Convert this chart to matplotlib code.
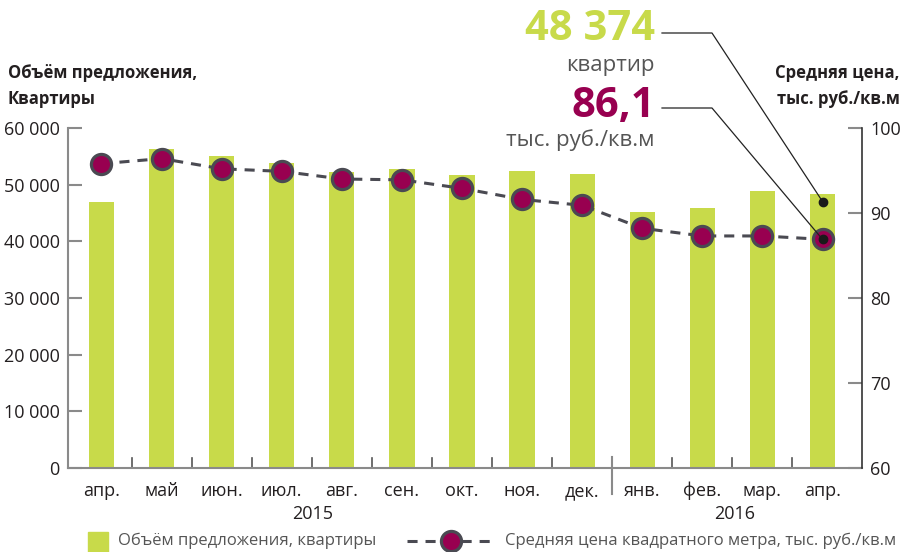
import matplotlib
matplotlib.use("Agg")
import matplotlib.pyplot as plt
from matplotlib.lines import Line2D
from matplotlib.patches import Rectangle
import matplotlib.transforms as mtransforms

plt.rcParams['font.family'] = ['Open Sans', 'DejaVu Sans']

# данные
months = ["апр.", "май", "июн.", "июл.", "авг.", "сен.", "окт.", "ноя.", "дек.",
          "янв.", "фев.", "мар.", "апр."]
years = ["2015", "2016"]
volume = [46900, 56300, 55000, 53800, 52200, 52700, 51700, 52400, 51900,
          45100, 45800, 48800, 48374]
price = [95.8, 96.4, 95.2, 94.9, 94.0, 93.9, 92.9, 91.6, 90.9,
         88.2, 87.3, 87.3, 86.9]
price_label = "86,1"
left_ticks = [0, 10000, 20000, 30000, 40000, 50000, 60000]
right_ticks = [60, 70, 80, 90, 100]

green = "#c8da4a"
maroon = "#980050"
dark = "#4a4a52"
gray = "#8a8a8a"
text_c = "#231f20"

W, H = 903, 552
fig = plt.figure(figsize=(W / 100, H / 100), dpi=100)
ax = fig.add_axes([68 / W, (H - 468) / H, (862 - 68) / W, (468 - 128) / H])
ax2 = ax.twinx()

x = list(range(len(months)))
ax.bar(x, volume, width=0.42, color=green, zorder=2)
ax.set_xlim(-0.557, len(months) - 1 + 0.657)
ax.set_ylim(0, 60000)
ax.set_yticks(left_ticks)
ax.set_yticklabels([f"{v:,}".replace(",", " ") for v in left_ticks])

ax2.plot(x, price, color=dark, lw=2.2, dashes=(3.3, 2.6), zorder=3,
         marker="o", markersize=14.5, markerfacecolor=maroon,
         markeredgecolor=dark, markeredgewidth=2.3)
ax2.set_ylim(60, 100)
ax2.set_yticks(right_ticks)

for a in (ax, ax2):
    a.spines["top"].set_visible(False)
    a.tick_params(axis="y", direction="in", length=10, width=1.5, color=gray,
                  labelsize=13, labelcolor=text_c, pad=6)
ax.spines["left"].set_color(gray)
ax.spines["left"].set_linewidth(1.5)
ax.spines["right"].set_visible(False)
ax2.spines["left"].set_visible(False)
ax2.spines["right"].set_color("#333333")
ax2.spines["right"].set_linewidth(1.2)
ax2.spines["bottom"].set_visible(False)
ax.spines["bottom"].set_color(gray)
ax.spines["bottom"].set_linewidth(1.5)

# подписи месяцев и разделители
ax.set_xticks(x)
ax.set_xticklabels(months)
ax.tick_params(axis="x", length=0, labelsize=13, labelcolor=text_c, pad=10)
for i in range(len(months) - 1):
    if i == 8:
        ax.plot([i + 0.5, i + 0.5], [-0.075, 0.033], transform=ax.get_xaxis_transform(),
                color=gray, lw=1.5, clip_on=False)
    else:
        ax.plot([i + 0.5, i + 0.5], [0, 0.03], transform=ax.get_xaxis_transform(),
                color="#555555", lw=1.2, clip_on=False)

ax.text(3.52, -0.135, years[0], transform=ax.get_xaxis_transform(), ha="center",
        va="center", fontsize=13, color=text_c)
ax.text(10.54, -0.135, years[1], transform=ax.get_xaxis_transform(), ha="center",
        va="center", fontsize=13, color=text_c)

# заголовки осей
fig.text(8 / W, 1 - 86 / H, "Объём предложения,\nКвартиры", ha="left", va="center",
         fontsize=12, fontweight="bold", color=text_c, linespacing=1.5)
fig.text(900 / W, 1 - 86 / H, "Средняя цена,\nтыс. руб./кв.м", ha="right", va="center",
         fontsize=12, fontweight="bold", color=text_c, linespacing=1.5)

# выноски
fig.text(655 / W, 1 - 30 / H, f"{volume[-1]:,}".replace(",", " "), ha="right",
         va="center", fontsize=30, fontweight="bold", color=green)
fig.text(655 / W, 1 - 66 / H, "квартир", ha="right", va="center", fontsize=16,
         color="#555555")
fig.text(655 / W, 1 - 106 / H, price_label, ha="right",
         va="center", fontsize=30, fontweight="bold", color=maroon)
fig.text(655 / W, 1 - 140 / H, "тыс. руб./кв.м", ha="right", va="center", fontsize=16,
         color="#555555")

to_fig = fig.transFigure.inverted()
px = lambda p: (p[0] / W, 1 - p[1] / H)
dot_off = mtransforms.offset_copy(ax.transData, fig=fig, x=0, y=-5.5, units="points")
bar_pt = to_fig.transform(dot_off.transform((x[-1], volume[-1])))
price_pt = to_fig.transform(ax2.transData.transform((x[-1], price[-1])))
for (y0, end) in [(33, bar_pt), (108, price_pt)]:
    p0 = px((662, y0))
    p1 = px((712, y0))
    fig.add_artist(Line2D([p0[0], p1[0], end[0]], [p0[1], p1[1], end[1]],
                          color="#222222", lw=0.9, transform=fig.transFigure))
    fig.add_artist(Line2D([end[0]], [end[1]], marker="o", markersize=6,
                          color="#1a1a1a", transform=fig.transFigure))

# легенда
fig.add_artist(Rectangle(px((88, 552)), 20 / W, 20 / H, color=green,
                         transform=fig.transFigure, clip_on=False))
fig.text(118 / W, 1 - 541 / H, "Объём предложения, квартиры", ha="left", va="center",
         fontsize=12, color="#555555")
fig.add_artist(Line2D([407 / W, 495 / W], [1 - 541 / H] * 2, color=dark, lw=2.2,
                      dashes=(3.3, 2.6), transform=fig.transFigure))
fig.add_artist(Line2D([451 / W], [1 - 541 / H], marker="o", markersize=14.5,
                      markerfacecolor=maroon, markeredgecolor=dark, markeredgewidth=2.3,
                      transform=fig.transFigure))
fig.text(505 / W, 1 - 541 / H, "Средняя цена квадратного метра, тыс. руб./кв.м",
         ha="left", va="center", fontsize=12, color="#555555")

fig.savefig("out.png", dpi=100)
